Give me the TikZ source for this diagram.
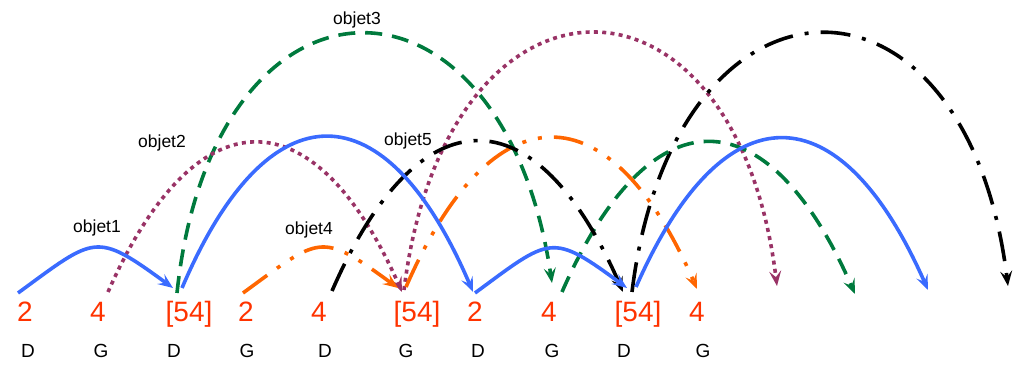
\documentclass[tikz,border=0pt]{standalone}
\usepackage{fontspec}
\setmainfont{Liberation Sans}
\usetikzlibrary{arrows.meta}
\definecolor{objblue}{RGB}{58,107,255}
\definecolor{objpurple}{RGB}{153,51,102}
\definecolor{objgreen}{RGB}{0,122,61}
\definecolor{objorange}{RGB}{255,102,0}
\definecolor{numred}{RGB}{255,51,0}
\tikzset{arcbase/.style={
  line width=3.6pt,
  line cap=butt,
  -{Stealth[length=15pt,width=12pt,inset=6pt]},
  }
  }
\tikzset{arcblue/.style={
  arcbase,
  draw=objblue,
  }
  }
\tikzset{arcpurple/.style={
  arcbase,
  draw=objpurple,
  dash pattern=on 4pt off 4.3pt,
  }
  }
\tikzset{arcgreen/.style={
  arcbase,
  draw=objgreen,
  dash pattern=on 17pt off 10pt,
  }
  }
\tikzset{arcorange/.style={
  arcbase,
  draw=objorange,
  dash pattern=on 30pt off 12pt on 4pt off 12pt on 4pt off 12pt,
  }
  }
\tikzset{arcblack/.style={
  arcbase,
  draw=black,
  dash pattern=on 30pt off 12pt on 4pt off 12pt,
  }
  }
\tikzset{numlbl/.style={
  anchor=base,
  inner sep=0pt,
  text=numred,
  font=\fontsize{28}{30}\selectfont,
  }
  }
\tikzset{sidelbl/.style={
  anchor=base,
  inner sep=0pt,
  font=\fontsize{19}{21}\selectfont,
  }
  }
\tikzset{objlbl/.style={
  anchor=base,
  inner sep=0pt,
  font=\fontsize{17.5}{19}\selectfont,
  }
  }
\begin{document}
\begin{tikzpicture}[x=1pt,y=-1pt]
      \useasboundingbox (0,0) rectangle (1029,374);
      % values and sides
      \node[numlbl] (n1)  at (25,322)  {2};
      \node[numlbl] (n2)  at (98,322)  {4};
      \node[numlbl] (n3)  at (189,322) {[54]};
      \node[numlbl] (n4)  at (246,322) {2};
      \node[numlbl] (n5)  at (319,322) {4};
      \node[numlbl] (n6)  at (417,322) {[54]};
      \node[numlbl] (n7)  at (475,322) {2};
      \node[numlbl] (n8)  at (549,322) {4};
      \node[numlbl] (n9)  at (638,322) {[54]};
      \node[numlbl] (n10) at (697,322) {4};
      \node[sidelbl] (s1)  at (28,357)  {D};
      \node[sidelbl] (s2)  at (101,357) {G};
      \node[sidelbl] (s3)  at (174,357) {D};
      \node[sidelbl] (s4)  at (247,357) {G};
      \node[sidelbl] (s5)  at (325,357) {D};
      \node[sidelbl] (s6)  at (406,357) {G};
      \node[sidelbl] (s7)  at (478,357) {D};
      \node[sidelbl] (s8)  at (552,357) {G};
      \node[sidelbl] (s9)  at (624,357) {D};
      \node[sidelbl] (s10) at (703,357) {G};
      % object names
      \node[objlbl] (obj1) at (97,233)  {objet1};
      \node[objlbl] (obj2) at (162,148) {objet2};
      \node[objlbl] (obj3) at (357,25)  {objet3};
      \node[objlbl] (obj4) at (309,235) {objet4};
      \node[objlbl] (obj5) at (408,146) {objet5};
      % arc ends
      \coordinate (b1s) at (18,293);  \coordinate (b1e) at (173,288);
      \coordinate (b2s) at (182,288); \coordinate (b2e) at (473,292);
      \coordinate (b3s) at (475,293); \coordinate (b3e) at (627,288);
      \coordinate (b4s) at (636,287); \coordinate (b4e) at (928,290);
      \coordinate (p1s) at (108,292); \coordinate (p1e) at (402,292);
      \coordinate (p2s) at (404,290); \coordinate (p2e) at (777,286);
      \coordinate (g1s) at (177,293); \coordinate (g1e) at (552,283);
      \coordinate (g2s) at (562,292); \coordinate (g2e) at (855,294);
      \coordinate (o1s) at (243,293); \coordinate (o1e) at (398,288);
      \coordinate (o2s) at (406,287); \coordinate (o2e) at (697,289);
      \coordinate (k1s) at (332,291); \coordinate (k1e) at (623,292);
      \coordinate (k2s) at (632,292); \coordinate (k2e) at (1008,286);
      % arcs
      \draw[arcgreen]  (g1s) .. controls +(36,-342) and +(-50,-336) .. (g1e);
      \draw[arcpurple] (p2s) .. controls +(42,-340) and +(-42,-340) .. (p2e);
      \draw[arcblack]  (k2s) .. controls +(42,-341) and +(-42,-341) .. (k2e);
      \draw[arcpurple] (p1s) .. controls +(88,-199) and +(-88,-199) .. (p1e);
      \draw[arcgreen]  (g2s) .. controls +(88,-201) and +(-88,-201) .. (g2e);
      \draw[arcorange] (o2s) .. controls +(87,-200) and +(-87,-200) .. (o2e);
      \draw[arcblack]  (k1s) .. controls +(87,-200) and +(-87,-200) .. (k1e);
      \draw[arcorange] (o1s) .. controls +(78,-57) and +(-78,-57) .. (o1e);
      \draw[arcblue]   (b1s) .. controls +(78,-57) and +(-78,-57) .. (b1e);
      \draw[arcblue]   (b2s) .. controls +(87,-204) and +(-87,-204) .. (b2e);
      \draw[arcblue]   (b3s) .. controls +(76,-56) and +(-76,-56) .. (b3e);
      \draw[arcblue]   (b4s) .. controls +(88,-200) and +(-88,-200) .. (b4e);
\end{tikzpicture}
\end{document}
